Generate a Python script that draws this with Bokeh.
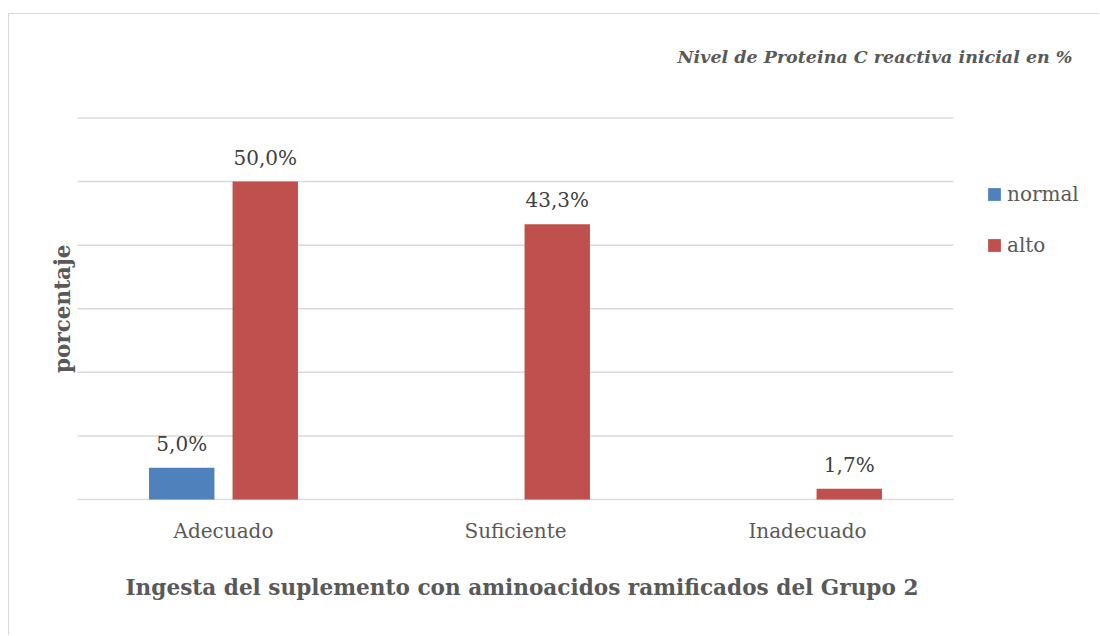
from bokeh.plotting import figure
from bokeh.models import ColumnDataSource, Range1d, FixedTicker, Title, Label
from bokeh.transform import dodge
from bokeh.core.properties import value
from bokeh.embed import file_html
from bokeh.resources import INLINE

categories = ["Adecuado", "Suficiente", "Inadecuado"]
normal = [5.0, 0.0, 0.0]
alto = [50.0, 43.3, 1.7]
series_names = ["normal", "alto"]
series_colors = ["#4F81BD", "#C0504D"]
y_ticks = [0, 10, 20, 30, 40, 50, 60]
title_top = "Nivel de Proteina C reactiva inicial en %"
title_bottom = "Ingesta del suplemento con aminoacidos ramificados del Grupo 2"
y_label = "porcentaje"

FONT = "DejaVu Serif"
TXT = "#595959"
OFF = 0.143
BW = 0.224
NCAT = len(categories)
xpos = [i + 0.5 for i in range(NCAT)]

src = ColumnDataSource(dict(x=xpos, cat=categories, normal=normal, alto=alto))

p = figure(
    width=1091, height=622,
    x_range=Range1d(-0.23288, 3.50342),
    y_range=Range1d(-0.157, 76.28),
    output_backend="svg", toolbar_location=None,
    min_border_left=0, min_border_right=0,
    min_border_top=0, min_border_bottom=136,
    background_fill_color="white", border_fill_color="white",
    outline_line_color=None,
)
p.styles = {"margin-left": "8px", "margin-top": "13px",
            "border-left": "1px solid #d9d9d9", "border-top": "1px solid #d9d9d9"}

# gridlines over the category span
p.segment(x0=[0] * len(y_ticks), x1=[NCAT] * len(y_ticks), y0=y_ticks, y1=y_ticks,
          line_color="#d9d9d9", line_width=1.5)

for name, color, off in zip(series_names, series_colors, (-OFF, OFF)):
    p.vbar(x=dodge("x", off), top=name, width=BW, source=src,
           fill_color=color, line_color=None, legend_label=name)

for name, off in zip(series_names, (-OFF, OFF)):
    vals = src.data[name]
    keep = [i for i, v in enumerate(vals) if v > 0]
    s = ColumnDataSource(dict(
        x=[xpos[i] for i in keep],
        val=[vals[i] for i in keep],
        txt=[f"{vals[i]:.1f}%".replace(".", ",") for i in keep]))
    p.text(x=dodge("x", off), y="val", text="txt", source=s,
           text_font=value(FONT), text_font_size="20px", text_align="center",
           text_baseline="middle", y_offset=-24, text_color="#404040")

p.xgrid.grid_line_color = None
p.ygrid.grid_line_color = None
p.yaxis.visible = False

# x axis: category names
p.xaxis.ticker = FixedTicker(ticks=xpos)
p.xaxis.major_label_overrides = {x: c for x, c in zip(xpos, categories)}
p.xaxis.axis_line_color = None
p.xaxis.major_tick_line_color = None
p.xaxis.minor_tick_line_color = None
p.xaxis.major_label_standoff = 12
p.xaxis.major_label_text_font = FONT
p.xaxis.major_label_text_font_size = "20px"
p.xaxis.major_label_text_color = TXT

# titles
p.add_layout(Label(x=3.4075, y=69.67, text=title_top, text_font=FONT, text_font_size="17.5px",
                   text_font_style="bold italic", text_color=TXT, text_align="right",
                   text_baseline="middle"))
p.add_layout(Label(x=-0.0514, y=(y_ticks[0] + y_ticks[-1]) / 2, text=y_label, angle=1.5708,
                   text_font=FONT, text_font_size="21.5px", text_font_style="bold",
                   text_color=TXT, text_align="center", text_baseline="middle"))
p.add_layout(Title(text=title_bottom, align="left", offset=48 + 68, standoff=55,
                   text_font=FONT, text_font_size="21.6px", text_font_style="bold",
                   text_color=TXT), "below")

# legend
lg = p.legend[0]
lg.location = (909 + 68, 243)
lg.margin = 0
lg.padding = 0
lg.border_line_color = None
lg.background_fill_alpha = 0
lg.glyph_width = 16
lg.glyph_height = 16
lg.label_standoff = 5
lg.label_height = 20
lg.spacing = 27
lg.label_text_font = FONT
lg.label_text_font_size = "20px"
lg.label_text_color = TXT

open("out.html", "w").write(file_html(p, INLINE))
